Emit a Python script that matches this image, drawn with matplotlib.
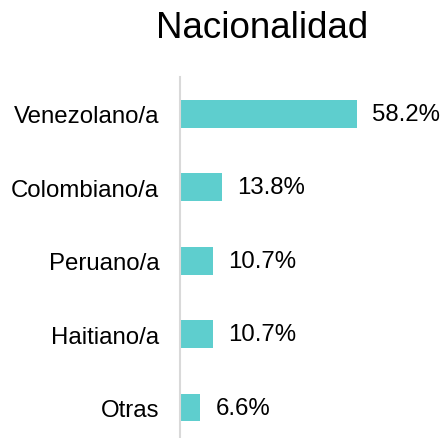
import matplotlib.pyplot as plt

plt.rcParams['font.family'] = ['Liberation Sans', 'DejaVu Sans']

categorias = ['Venezolano/a', 'Colombiano/a', 'Peruano/a', 'Haitiano/a', 'Otras']
porcentajes = [58.2, 13.8, 10.7, 10.7, 6.6]
etiquetas = ['58.2%', '13.8%', '10.7%', '10.7%', '6.6%']

fig = plt.figure(figsize=(4.44, 4.39), dpi=100)
ax = fig.add_axes([180 / 444, 0, 1 - 180 / 444, (439 - 78) / 439])

pos = list(range(len(categorias)))
ax.barh(pos, porcentajes, height=0.38, color='#5ECECE')

# etiquetas de valor
for p, v, t in zip(pos, porcentajes, etiquetas):
    ax.annotate(t, (v, p), xytext=(11, 0), textcoords='offset points',
                va='center', ha='left', fontsize=17.3, color='black')

ax.set_xlim(0, 264 / (177 / 58.2))
ax.set_ylim(4.415, -0.5)
ax.set_yticks(pos)
ax.set_yticklabels(categorias, fontsize=17.3, color='black')
ax.tick_params(axis='y', length=0, pad=15)
ax.set_xticks([])

for s in ['top', 'right', 'bottom']:
    ax.spines[s].set_visible(False)
ax.spines['left'].set_color('#d9d9d9')
ax.spines['left'].set_linewidth(1.5)

fig.text(262 / 444, 1 - 28 / 439, 'Nacionalidad', ha='center', va='center',
         fontsize=26.5, color='black')

fig.savefig('out.png', dpi=100)
